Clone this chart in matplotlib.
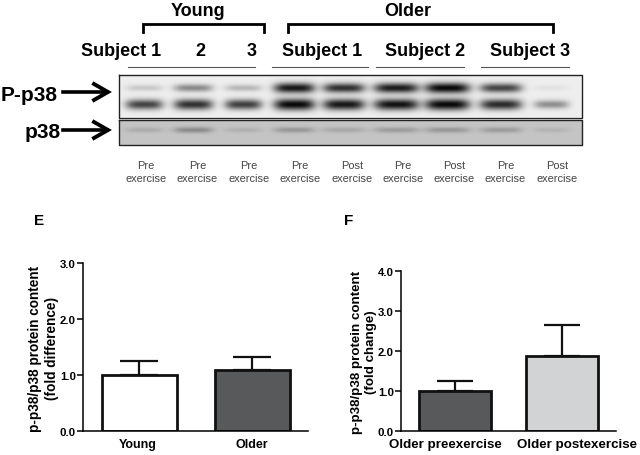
import numpy as np
import matplotlib
matplotlib.use('Agg')
import matplotlib.pyplot as plt
from matplotlib.transforms import ScaledTranslation

plt.rcParams['font.family'] = ['Liberation Sans', 'DejaVu Sans']

W, H = 640, 456

# western blot, band strength per lane (0 = nothing, 1 = black)
lane_left = [126, 174, 225, 274, 323, 374, 425, 480, 534]
lane_right = [163, 213, 262, 315, 365, 419, 470, 522, 569]
pp38_upper = [0.15, 0.4, 0.22, 0.86, 0.76, 0.84, 0.92, 0.68, 0.05]
pp38_lower = [0.68, 0.76, 0.7, 0.92, 0.86, 0.88, 0.92, 0.78, 0.38]
p38_band = [0.12, 0.28, 0.1, 0.22, 0.14, 0.2, 0.22, 0.2, 0.08]

lane_labels = [('Pre', 146), ('Pre', 197.5), ('Pre', 249), ('Pre', 300), ('Post', 352),
               ('Pre', 403), ('Post', 454), ('Pre', 505.5), ('Post', 557)]
subject_labels = [('Subject 1', 121.5), ('2', 200), ('3', 252), ('Subject 1', 322.5),
                  ('Subject 2', 425.5), ('Subject 3', 530)]

# bar panels
e_names = ['Young', 'Older']
e_values = [1.0, 1.1]
e_errors = [0.26, 0.23]
e_colors = ['white', '#58595b']
f_names = ['Older preexercise', 'Older postexercise']
f_values = [1.0, 1.87]
f_errors = [0.25, 0.77]
f_colors = ['#58595b', '#d1d3d4']


def blot_image(x0, x1, y0, y1, bg, rows):
    xs, ys = np.meshgrid(np.arange(x0, x1) + 0.5, np.arange(y0, y1) + 0.5)
    img = np.full(xs.shape, bg, dtype=float)
    for yc, sy, strengths in rows:
        for l, r, a in zip(lane_left, lane_right, strengths):
            c = (l + r) / 2
            hw = (r - l) / 2
            # bands get thicker with strength
            s = sy * (0.65 + 0.6 * a)
            band = np.exp(-((xs - c) / hw) ** 4 - ((ys - yc) / s) ** 2)
            img = img * (1 - min(a * 1.05, 1) * band)
    return img


def bar_panel(box, ylim, yticks, names, values, errors, colors, xlim, width, ylabel, capw, xfs, yfs,
              label_shift, label_x):
    l, r, b, t = box
    ax = fig.add_axes([l / W, 1 - b / H, (r - l) / W, (b - t) / H])
    x = np.arange(len(values))
    ax.bar(x, values, width=width, color=colors, edgecolor='#111111', linewidth=2)
    ax.errorbar(x, values, yerr=[[0, 0], errors], fmt='none', ecolor='#111111',
                elinewidth=1.6, capsize=capw, capthick=1.6, zorder=1)
    ax.set_xlim(xlim)
    ax.set_ylim(ylim)
    ax.set_yticks(yticks)
    ax.set_yticklabels(['%.1f' % v for v in yticks], fontsize=8.2, fontweight='bold')
    ax.set_xticks(x)
    ax.set_xticklabels(names, fontsize=xfs, fontweight='bold')
    ax.tick_params(axis='x', length=0, pad=5)
    ax.tick_params(axis='y', length=4, width=1.1, pad=1)
    for lab, dx in zip(ax.get_xticklabels(), label_shift):
        lab.set_transform(lab.get_transform() + ScaledTranslation(dx / 100, 0, fig.dpi_scale_trans))
    ax.spines[['top', 'right']].set_visible(False)
    ax.spines[['left', 'bottom']].set_linewidth(1.1)
    ax.set_ylabel(ylabel, fontsize=yfs, fontweight='bold', linespacing=1.3)
    ax.yaxis.set_label_coords(label_x, 0.495)
    ax.patch.set_alpha(0)
    return ax


fig = plt.figure(figsize=(W / 100, H / 100), dpi=100, facecolor='white')

# full figure axes in pixels for the blot part
bg = fig.add_axes([0, 0, 1, 1])
bg.set_xlim(0, W)
bg.set_ylim(H, 0)
bg.axis('off')

top = blot_image(119, 582, 76, 118, 238, [(89, 4.4, pp38_upper), (105.5, 4.8, pp38_lower)])
low = blot_image(119, 582, 121, 146, 196, [(131, 3.6, p38_band)])
bg.imshow(top, extent=(119, 582, 118, 76), cmap='gray', vmin=0, vmax=255, aspect='auto', interpolation='bilinear')
bg.imshow(low, extent=(119, 582, 146, 121), cmap='gray', vmin=0, vmax=255, aspect='auto', interpolation='bilinear')
bg.set_xlim(0, W)
bg.set_ylim(H, 0)
bg.plot([118.5, 581.5, 581.5, 118.5, 118.5], [75.5, 75.5, 118.5, 118.5, 75.5], color='#222222', lw=1)
bg.plot([118.5, 581.5, 581.5, 118.5, 118.5], [120.5, 120.5, 146, 146, 120.5], color='#222222', lw=1)

# group brackets
bg.plot([143, 143, 264, 264], [33, 25, 25, 33], color='black', lw=2, solid_joinstyle='miter')
bg.plot([288, 288, 553, 553], [33, 25, 25, 33], color='black', lw=2, solid_joinstyle='miter')
bg.text(198, 16, 'Young', ha='center', va='baseline', fontsize=13, fontweight='bold')
bg.text(408, 16, 'Older', ha='center', va='baseline', fontsize=13, fontweight='bold')

for s, xc in subject_labels:
    bg.text(xc, 56, s, ha='center', va='baseline', fontsize=13, fontweight='bold')
for a, b in [(127.5, 255), (272, 368), (376, 464), (481, 569)]:
    bg.plot([a, b], [68, 68], color='#555555', lw=0.8)

# arrows
bg.text(1, 101.5, 'P-p38', ha='left', va='baseline', fontsize=15, fontweight='bold')
bg.text(61, 138, 'p38', ha='right', va='baseline', fontsize=15, fontweight='bold')
for y, xs in [(93, 63), (131, 63)]:
    bg.plot([xs, 107], [y, y], color='black', lw=2.6)
    bg.plot([94, 108, 94], [y - 8, y, y + 8], color='black', lw=2.8, solid_joinstyle='miter')

for name, xc in lane_labels:
    bg.text(xc, 169, name, ha='center', va='baseline', fontsize=7.9, color='#444444')
    bg.text(xc, 182, 'exercise', ha='center', va='baseline', fontsize=7.9, color='#444444')

bg.text(34, 225, 'E', ha='left', va='baseline', fontsize=11, fontweight='bold')
bg.text(344, 225, 'F', ha='left', va='baseline', fontsize=11, fontweight='bold')

bar_panel((83, 308, 432, 264.3), (0, 3), [0, 1, 2, 3], e_names, e_values, e_errors, e_colors,
          (-0.497, 1.494), 0.664, 'p-p38/p38 protein content\n(fold difference)', 13.5, 9, 9.8,
          [-1, 0], -0.107)
bar_panel((401, 615.7, 431.7, 271.7), (0, 4), [0, 1, 2, 3, 4], f_names, f_values, f_errors, f_colors,
          (-0.504, 1.503), 0.67, 'p-p38/p38 protein content\n(fold change)', 13, 9.6, 9.6,
          [-9.5, 15], -0.11)

fig.savefig('out.png', dpi=100)
